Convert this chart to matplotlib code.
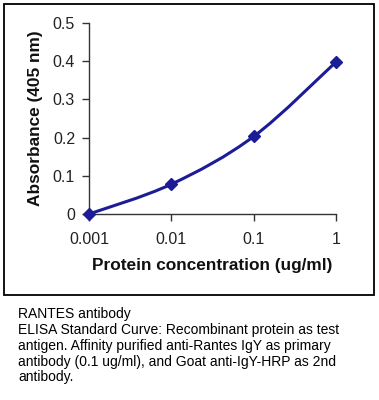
import numpy as np
import matplotlib
matplotlib.use("Agg")
import matplotlib.pyplot as plt
from matplotlib.path import Path
from matplotlib.patches import PathPatch, Rectangle

plt.rcParams['font.family'] = ['Liberation Sans', 'DejaVu Sans']

# data
conc = [0.001, 0.01, 0.1, 1]
absorbance = [0.0, 0.078, 0.203, 0.398]
xtick_labels = ["0.001", "0.01", "0.1", "1"]
yticks = [0, 0.1, 0.2, 0.3, 0.4, 0.5]
ytick_labels = ["0", "0.1", "0.2", "0.3", "0.4", "0.5"]

caption = ("RANTES antibody\n"
           "ELISA Standard Curve: Recombinant protein as test\n"
           "antigen. Affinity purified anti-Rantes IgY as primary\n"
           "antibody (0.1 ug/ml), and Goat anti-IgY-HRP as 2nd\n"
           "antibody.")

LINE_COLOR = "#1c1c96"


def smooth_path(x, y):
    # Excel-style smoothed line: cubic Bezier through points in log-x space
    lx = np.log10(x)
    y = np.asarray(y, float)
    n = len(lx)
    px = np.concatenate([[lx[0]], lx, [lx[-1]]])
    py = np.concatenate([[y[0]], y, [y[-1]]])
    verts = [(x[0], y[0])]
    codes = [Path.MOVETO]
    for i in range(n - 1):
        c1x = px[i + 1] + (px[i + 2] - px[i]) / 6
        c1y = py[i + 1] + (py[i + 2] - py[i]) / 6
        c2x = px[i + 2] - (px[i + 3] - px[i + 1]) / 6
        c2y = py[i + 2] - (py[i + 3] - py[i + 1]) / 6
        verts += [(10 ** c1x, c1y), (10 ** c2x, c2y), (x[i + 1], y[i + 1])]
        codes += [Path.CURVE4] * 3
    return Path(verts, codes)


fig = plt.figure(figsize=(3.79, 4.00), dpi=100)

# outer frame around the chart
fig.patches.append(Rectangle((4 / 379, 1 - 295 / 400), 370 / 379, 291 / 400,
                             transform=fig.transFigure, fill=False,
                             edgecolor="black", lw=1.3))

ax = fig.add_axes([89 / 379, 1 - 214 / 400, (336 - 89) / 379, (214 - 23) / 400])
ax.set_xscale("log")
ax.set_xlim(0.001, 1)
ax.set_ylim(0, 0.5)

ax.add_patch(PathPatch(smooth_path(conc, absorbance), fill=False,
                       edgecolor=LINE_COLOR, lw=2.2, clip_on=False))
ax.plot(conc, absorbance, ls="none", marker="D", ms=6, color=LINE_COLOR,
        clip_on=False, zorder=4)

ax.set_xticks(conc)
ax.set_xticklabels(xtick_labels)
ax.xaxis.set_minor_locator(matplotlib.ticker.NullLocator())
ax.set_yticks(yticks)
ax.set_yticklabels(ytick_labels)

for side in ("top", "right"):
    ax.spines[side].set_visible(False)
for side in ("left", "bottom"):
    ax.spines[side].set_color("#333333")
    ax.spines[side].set_linewidth(1.0)
ax.tick_params(axis="both", direction="out", length=5, width=1.0,
               color="#333333", labelsize=11.5, labelcolor="#222222")
ax.tick_params(axis="x", pad=8)
ax.tick_params(axis="y", pad=5)

ax.set_xlabel("Protein concentration (ug/ml)", fontsize=12.4,
              fontweight="bold", labelpad=8, color="#111111")
ax.set_ylabel("Absorbance (405 nm)", fontsize=12.4, fontweight="bold",
              labelpad=7, color="#111111")

fig.text(18 / 379, 1 - 307 / 400, caption, ha="left", va="top",
         fontsize=10, linespacing=1.17)

fig.savefig("out.png", dpi=100)
